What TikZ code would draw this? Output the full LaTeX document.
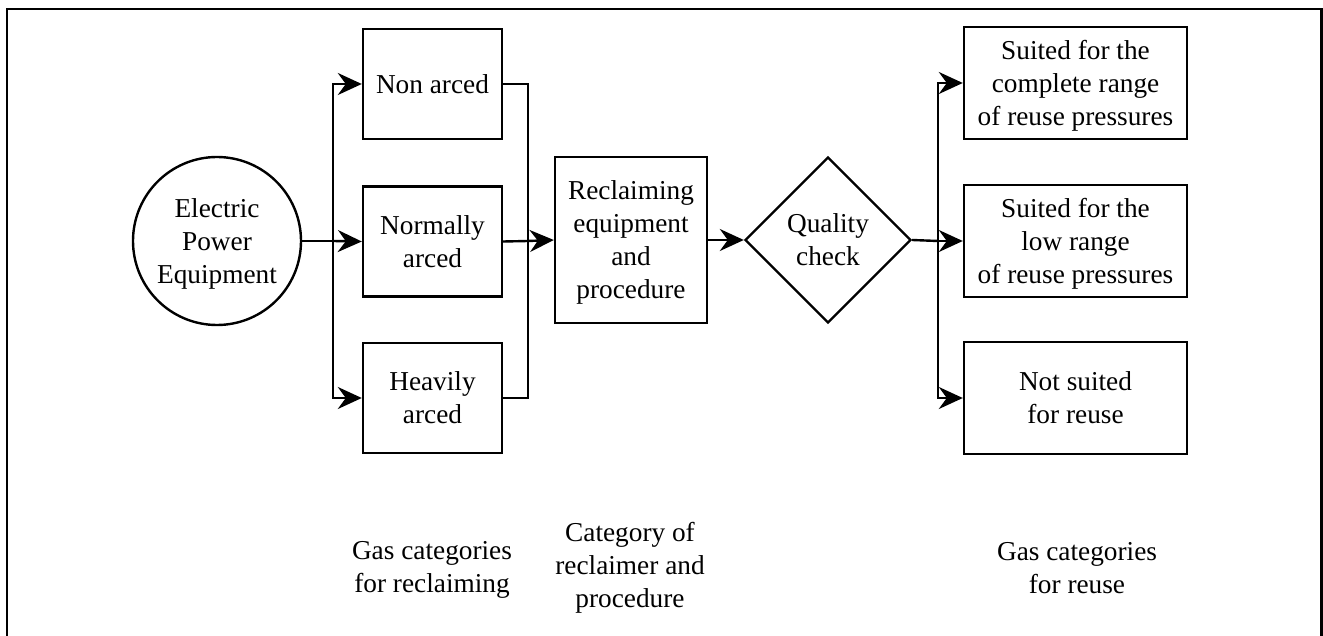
\documentclass[tikz,border=0pt]{standalone}
\usepackage{fontspec}
\setmainfont{Liberation Serif}
\usetikzlibrary{arrows.meta,shapes.geometric}
\newcommand\linestrut{\rule[-7.3pt]{0pt}{33pt}}
\newcommand\T[1]{\linestrut#1\linestrut}
\begin{document}
\begin{tikzpicture}[x=1pt,y=-1pt,
  every node/.style={font=\fontsize{27.3}{33}\selectfont, align=center, inner sep=0pt},
  boxl/.style={draw, line width=2.4pt, minimum width=139pt, minimum height=110pt},
  boxr/.style={draw, line width=2.4pt, minimum width=223pt, minimum height=112pt},
  conn/.style={line width=2.4pt},
  arr/.style={conn, -{Stealth[length=24pt,width=22pt,inset=8pt]}},
  lbl/.style={}]
\useasboundingbox (0,0) rectangle (1323,636);
\draw[line width=2.8pt] (7,640) -- (7,9) -- (1321.5,9) -- (1321.5,640);

\node[draw, circle, line width=2.4pt, minimum size=168pt] (ep) at (217,241) {\T{Electric\\Power\\Equipment}};

\node[boxl] (na) at (432.5,84) {\T{Non arced}};
\node[boxl] (nr) at (432.5,241.5) {\T{Normally\\arced}};
\node[boxl] (ha) at (432.5,398) {\T{Heavily\\arced}};

\node[draw, line width=2.4pt, minimum width=152pt, minimum height=166pt] (rc) at (631,240) {\T{Reclaiming\\equipment\\and\\procedure}};

\node[draw, diamond, line width=2.4pt, minimum width=166pt, minimum height=166pt, aspect=1] (qc) at (828,240) {\T{Quality\\check}};

\node[boxr] (s1) at (1075.5,83) {\T{Suited for the\\complete range\\of reuse pressures}};
\node[boxr] (s2) at (1075.5,241) {\T{Suited for the\\low range\\of reuse pressures}};
\node[boxr] (s3) at (1075.5,398) {\T{Not suited\\for reuse}};

\node[lbl] (l1) at (432,566.5) {\T{Gas categories\\for reclaiming}};
\node[lbl] (l2) at (630,565) {\T{Category of\\reclaimer and\\procedure}};
\node[lbl] (l3) at (1077,567.5) {\T{Gas categories\\for reuse}};

\coordinate (bl) at (333,241);
\coordinate (br) at (528,241);
\coordinate (bq) at (938,241);

% left fan-out
\draw[conn] (ep.east) -- (bl);
\draw[arr] (bl) |- (na.west);
\draw[arr] (bl) -- (nr.west);
\draw[arr] (bl) |- (ha.west);

% fan-in
\draw[conn] (na.east) -| (br);
\draw[conn] (ha.east) -| (br);
\draw[conn] (nr.east) -- (br);
\draw[arr] (br) -- (rc.west);

\draw[arr] (rc.east) -- (qc.west);

% right fan-out
\draw[conn] (qc.east) -- (bq);
\draw[arr] (bq) |- (s1.west);
\draw[arr] (bq) -- (s2.west);
\draw[arr] (bq) |- (s3.west);
\end{tikzpicture}
\end{document}
